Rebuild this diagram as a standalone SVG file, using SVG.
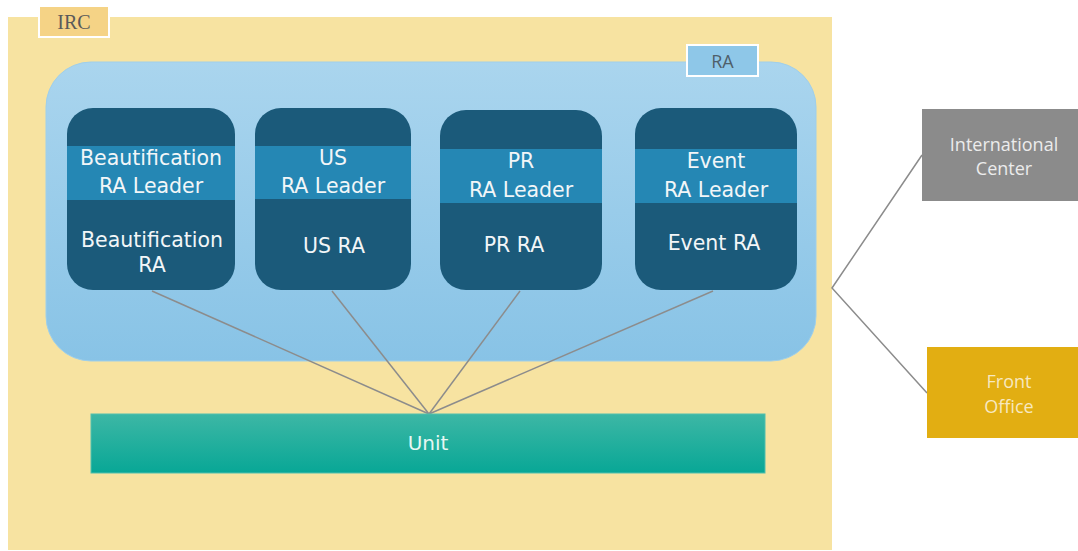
<svg xmlns="http://www.w3.org/2000/svg" width="1078" height="551" viewBox="0 0 1078 551">
<defs>
<linearGradient id="raGrad" x1="0" y1="0" x2="0" y2="1">
<stop offset="0" stop-color="#AAD5EE"/>
<stop offset="1" stop-color="#88C3E6"/>
</linearGradient>
<linearGradient id="unitGrad" x1="0" y1="0" x2="0" y2="1">
<stop offset="0" stop-color="#3DB7A5"/>
<stop offset="1" stop-color="#08A796"/>
</linearGradient>
<style>
.card{fill:#1B5A7A;}
.band{fill:#2587B4;}
.ct{font-family:"DejaVu Sans",Verdana,sans-serif;font-size:20.5px;fill:#F2F6F8;text-anchor:middle;}
.conn{stroke:#8C8C8C;stroke-width:1.5;fill:none;}
.side{font-family:"Open Sans","Liberation Sans",sans-serif;font-size:18px;text-anchor:middle;}
</style>
</defs>
<rect width="1078" height="551" fill="#FFFFFF"/>
<g id="irc">
<rect x="8" y="17" width="824" height="533" fill="#F7E3A1"/>
<rect x="39" y="6" width="70" height="31" fill="#F5D386" stroke="#FFFFFF" stroke-width="2"/>
<text x="74" y="29" font-family="Liberation Serif,serif" font-size="20" fill="#5A5A5A" text-anchor="middle">IRC</text>
</g>
<g id="ra">
<rect x="46" y="62" width="770" height="299" rx="45" fill="url(#raGrad)" stroke="#9FCFEA" stroke-width="1"/>
<rect x="687" y="45" width="71" height="31" fill="#8EC7E8" stroke="#FFFFFF" stroke-width="2"/>
<text x="722.5" y="68" font-family="Open Sans,Liberation Sans,sans-serif" font-size="18" fill="#4F5F6A" text-anchor="middle">RA</text>
</g>
<g id="connectors">
<line class="conn" x1="152" y1="291" x2="429" y2="414"/>
<line class="conn" x1="332" y1="291" x2="429" y2="414"/>
<line class="conn" x1="520" y1="291" x2="429" y2="414"/>
<line class="conn" x1="713" y1="291" x2="429" y2="414"/>
<polyline class="conn" points="922,155 832,288 927,393"/>
</g>
<g id="card-beautification">
<rect class="card" x="67" y="108" width="168" height="182" rx="26"/>
<rect class="band" x="67" y="146" width="168" height="54"/>
<text class="ct" x="151" y="165">Beautification</text>
<text class="ct" x="151" y="193">RA Leader</text>
<text class="ct" x="152" y="247">Beautification</text>
<text class="ct" x="152" y="272">RA</text>
</g>
<g id="card-us">
<rect class="card" x="255" y="108" width="156" height="182" rx="26"/>
<rect class="band" x="255" y="146" width="156" height="53"/>
<text class="ct" x="333" y="165">US</text>
<text class="ct" x="333" y="193">RA Leader</text>
<text class="ct" x="334" y="253">US RA</text>
</g>
<g id="card-pr">
<rect class="card" x="440" y="110" width="162" height="180" rx="26"/>
<rect class="band" x="440" y="149" width="162" height="54"/>
<text class="ct" x="521" y="168">PR</text>
<text class="ct" x="521" y="197">RA Leader</text>
<text class="ct" x="514" y="252">PR RA</text>
</g>
<g id="card-event">
<rect class="card" x="635" y="108" width="162" height="182" rx="26"/>
<rect class="band" x="635" y="149" width="162" height="54"/>
<text class="ct" x="716" y="168">Event</text>
<text class="ct" x="716" y="197">RA Leader</text>
<text class="ct" x="714" y="250">Event RA</text>
</g>
<g id="unit">
<rect x="91" y="414" width="674" height="59" fill="url(#unitGrad)" stroke="#52BFAE" stroke-width="1"/>
<text x="428" y="450" font-family="DejaVu Sans,Verdana,sans-serif" font-size="20" fill="#E6F7F3" text-anchor="middle">Unit</text>
</g>
<g id="international-center">
<rect x="922" y="109" width="156" height="92" fill="#8B8B8B"/>
<text class="side" x="1004" y="151" fill="#ECECEC">International</text>
<text class="side" x="1004" y="175" fill="#ECECEC">Center</text>
</g>
<g id="front-office">
<rect x="927" y="347" width="151" height="91" fill="#E2AE12"/>
<text class="side" x="1009" y="388" fill="#F7E8C0">Front</text>
<text class="side" x="1009" y="413" fill="#F7E8C0">Office</text>
</g>
</svg>
